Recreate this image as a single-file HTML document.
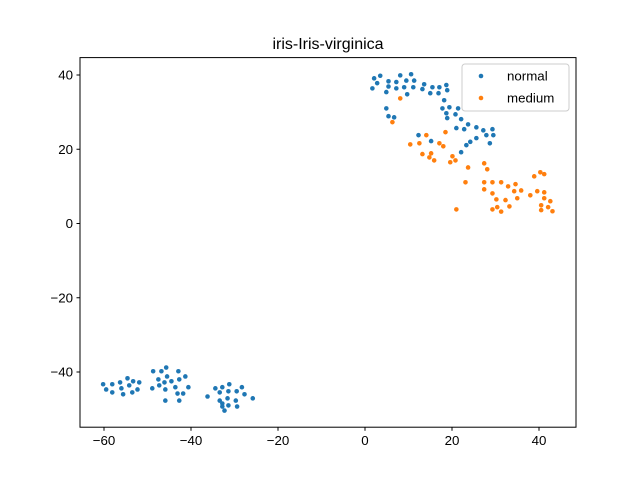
<!DOCTYPE html>
<html><head><meta charset="utf-8"><style>
body{margin:0;background:#fff}
svg{display:block;font-family:"Liberation Sans","DejaVu Sans",sans-serif}
</style></head><body>
<svg id="chart" width="640" height="480" viewBox="0 0 640 480">
<rect width="640" height="480" fill="#fff"/>
<text x="328" y="49" font-size="16" text-anchor="middle">iris-Iris-virginica</text>
<g id="marks"></g>
<g id="axes"></g>
<rect x="80" y="57.6" width="496" height="369.6" fill="none" stroke="#000" stroke-width="1"/>
<g>
<rect x="462" y="64" width="107" height="47" rx="3" fill="#fff" fill-opacity="0.8" stroke="#ccc"/>
<g><circle cx="481" cy="76" r="2.3" fill="#1f77b4"/><text x="507" y="80.5" font-size="13.3">normal</text></g>
<g><circle cx="481" cy="98" r="2.3" fill="#ff7f0e"/><text x="507" y="102.5" font-size="13.3">medium</text></g>
</g>
</svg>
<script>
const xTicks=[-60,-40,-20,0,20,40];
const yTicks=[-40,-20,0,20,40];
const normalX=[1.7,2.1,2.8,3.5,5.4,5.4,4.9,7.2,7.2,8.1,9.0,9.5,9.7,10.6,11.3,11.1,13.2,13.6,15.0,15.5,16.9,17.1,18.7,18.9,18.2,17.8,19.4,18.7,18.9,20.8,21.4,22.1,23.7,21.0,22.8,25.6,27.2,29.3,29.5,27.9,25.6,24.2,23.3,22.1,28.7,15.2,12.3,4.9,5.4,6.7,
-60.2,-59.5,-58.1,-58.1,-56.3,-56.0,-55.6,-54.6,-54.2,-53.3,-53.5,-52.3,-51.9,-48.9,-48.7,-46.8,-45.7,-47.5,-47.3,-46.1,-45.5,-45.9,-44.5,-43.6,-42.9,-42.7,-41.3,-40.6,-43.1,-41.8,-45.9,-42.7,-36.2,-34.4,-32.8,-31.2,-33.4,-31.4,-29.5,-28.3,-27.7,-25.8,-33.4,-31.6,-29.7,-32.8,-32.8,-31.4,-32.3,-29.4];
const normalY=[36.4,39.1,37.8,39.8,38.3,36.9,35.4,38.1,36.4,39.9,36.7,38.5,34.8,40.2,38.5,36.7,36.2,37.5,35.1,36.7,35.1,36.7,37.3,35.9,33.2,31.0,31.3,29.7,28.4,29.4,31.0,28.1,26.7,25.7,25.4,25.9,25.1,25.4,23.8,23.8,23.0,22.0,21.1,19.2,21.6,22.2,23.8,31.0,28.9,28.6,
-43.3,-44.7,-43.3,-45.5,-42.8,-44.4,-46.0,-41.7,-43.6,-42.5,-45.5,-44.7,-42.8,-44.4,-39.8,-39.8,-38.8,-42.0,-43.6,-42.8,-41.2,-44.7,-42.5,-44.1,-39.8,-42.0,-41.2,-44.1,-45.8,-45.8,-47.7,-47.7,-46.6,-44.4,-44.1,-43.3,-45.5,-45.2,-45.2,-44.1,-46.0,-47.1,-47.7,-47.1,-47.7,-49.3,-48.5,-49.0,-50.4,-49.3];
const mediumX=[8.1,6.3,18.5,14.1,12.5,10.4,17.1,18.0,13.2,15.2,14.8,15.9,20.1,20.8,19.6,23.7,27.4,28.1,23.1,27.4,29.3,31.3,27.4,29.3,32.9,34.6,34.3,35.9,32.3,30.2,33.2,35.0,30.4,29.3,31.3,21.0,38.0,39.6,41.2,38.9,40.3,41.2,41.2,42.6,40.5,42.1,40.5,43.1];
const mediumY=[33.7,27.3,24.6,23.8,21.6,21.3,21.6,20.8,18.7,18.9,17.8,17.0,18.1,17.0,16.5,15.1,16.2,14.6,11.1,11.1,11.1,11.1,9.2,8.1,10.0,10.6,8.7,8.9,6.3,6.5,4.6,6.8,4.4,3.8,3.2,3.8,7.6,8.7,8.4,12.7,13.8,13.3,6.8,6.0,4.9,4.4,3.6,3.3];
const NS="http://www.w3.org/2000/svg";
const sx=v=>365+v*4.35;
const sy=v=>223.5-v*3.7125;
const marks=document.getElementById('marks');
const axes=document.getElementById('axes');
function dot(x,y,c,name){
  const el=document.createElementNS(NS,'circle');
  el.setAttribute('cx',sx(x));el.setAttribute('cy',sy(y));el.setAttribute('r',2.3);el.setAttribute('fill',c);
  
  
  marks.appendChild(el);
}
normalX.forEach((x,i)=>dot(x,normalY[i],'#1f77b4','point-normal'));
mediumX.forEach((x,i)=>dot(x,mediumY[i],'#ff7f0e','point-medium'));
xTicks.forEach(t=>{
  const l=document.createElementNS(NS,'line');
  l.setAttribute('x1',sx(t));l.setAttribute('x2',sx(t));l.setAttribute('y1',427.2);l.setAttribute('y2',430.7);l.setAttribute('stroke','#000');
  
  
  axes.appendChild(l);
  const tx=document.createElementNS(NS,'text');
  tx.setAttribute('x',sx(t));tx.setAttribute('y',445);tx.setAttribute('font-size','13.3');tx.setAttribute('text-anchor','middle');
  tx.textContent=(t<0?'\u2212'+Math.abs(t):String(t));
  
  
  axes.appendChild(tx);
});
yTicks.forEach(t=>{
  const l=document.createElementNS(NS,'line');
  l.setAttribute('x1',76.5);l.setAttribute('x2',80);l.setAttribute('y1',sy(t));l.setAttribute('y2',sy(t));l.setAttribute('stroke','#000');
  
  
  axes.appendChild(l);
  const tx=document.createElementNS(NS,'text');
  tx.setAttribute('x',73);tx.setAttribute('y',sy(t)+4.5);tx.setAttribute('font-size','13.3');tx.setAttribute('text-anchor','end');
  tx.textContent=(t<0?'\u2212'+Math.abs(t):String(t));
  
  
  axes.appendChild(tx);
});
</script>
</body></html>
